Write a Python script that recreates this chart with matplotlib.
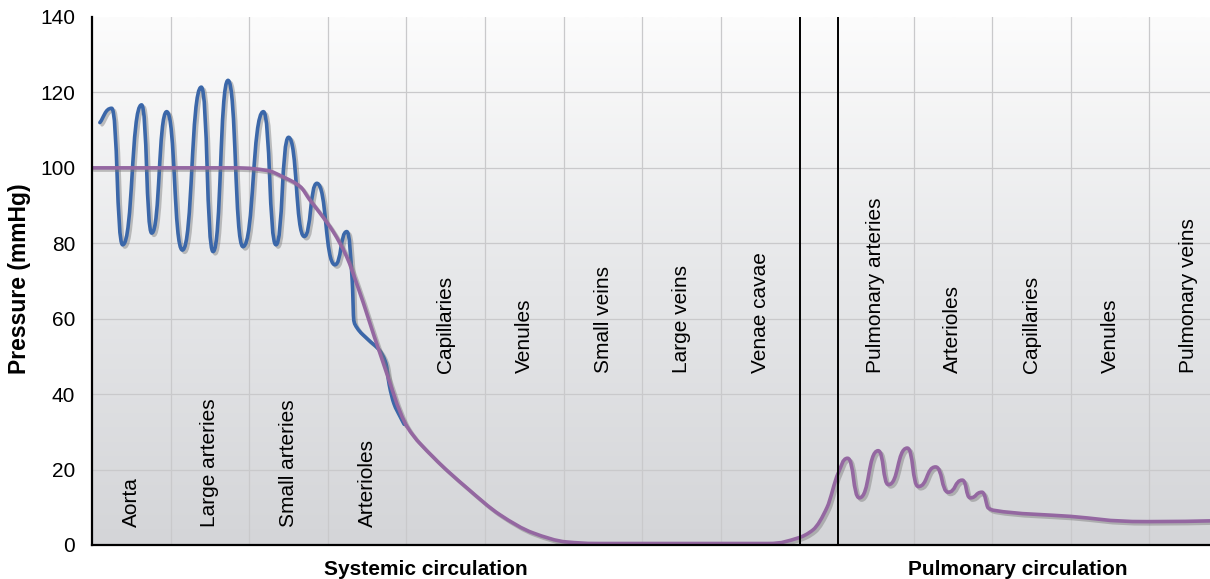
import numpy as np
import matplotlib
matplotlib.use('Agg')
import matplotlib.pyplot as plt
from matplotlib.path import Path
from matplotlib.patches import PathPatch
from matplotlib.colors import LinearSegmentedColormap
import matplotlib.patheffects as pe

plt.rcParams['font.family'] = ['Liberation Sans', 'DejaVu Sans']

# x is measured in "vessel columns" (one grid cell = 1)
systemic_names = ['Aorta', 'Large arteries', 'Small arteries', 'Arterioles',
                  'Capillaries', 'Venules', 'Small veins', 'Large veins', 'Venae cavae']
pulmonary_names = ['Pulmonary arteries', 'Arterioles', 'Capillaries', 'Venules',
                   'Pulmonary veins']
pulmonary_edges = [9.49, 10.45, 11.45, 12.45, 13.45, 14.45]

# pulsatile (blue) pressure
blue_x = [0.10, 0.25, 0.39, 0.63, 0.76, 0.95, 1.15, 1.39, 1.54, 1.73, 1.92,
          2.18, 2.34, 2.50, 2.70, 2.86, 3.09, 3.24,
          3.31, 3.33, 3.37, 3.51, 3.66, 3.74, 3.78, 3.84, 3.92, 3.97]
blue_y = [112.0, 115.8, 79.6, 116.7, 82.7, 114.9, 78.2, 121.4, 77.8, 123.2, 79.1,
          114.9, 79.6, 108.1, 81.8, 95.9, 74.3, 83.1,
          70.0, 59.5, 57.6, 54.5, 51.5, 48.0, 42.5, 37.5, 34.0, 32.0]

# mean (purple) pressure
mean_x = [0.0, 1.79, 2.23, 2.43, 2.65, 2.77, 2.90, 3.07, 3.24, 3.38, 3.66,
          4.01, 4.34, 4.77, 5.19, 5.61, 6.04, 6.46, 8.59, 8.97, 9.17, 9.35,
          9.49, 9.61, 9.76, 10.00, 10.13, 10.37, 10.51, 10.73, 10.89, 11.07,
          11.17, 11.32, 11.40, 11.47, 12.44, 13.42, 14.22]
mean_y = [100.0, 100.0, 99.3, 97.6, 95.0, 91.5, 88.0, 83.0, 76.4, 68.5, 51.0,
          31.3, 23.3, 15.1, 8.0, 3.2, 0.8, 0.4, 0.4, 1.8, 4.0, 10.0,
          19.0, 23.0, 12.5, 25.0, 16.0, 25.7, 15.5, 20.7, 14.0, 17.2,
          12.5, 14.0, 9.8, 9.2, 7.6, 6.2, 6.4]


def monotone_path(xs, ys):
    # cubic hermite (monotone, like d3.curveMonotoneX) as bezier path,
    # with longer handles at the turning points for rounder crests
    x = np.asarray(xs, float)
    y = np.asarray(ys, float)
    h = np.diff(x)
    d = np.diff(y) / h
    m = np.zeros_like(y)
    m[0], m[-1] = d[0], d[-1]
    for k in range(1, len(x) - 1):
        if d[k - 1] * d[k] > 0:
            w1 = 2 * h[k] + h[k - 1]
            w2 = h[k] + 2 * h[k - 1]
            m[k] = (w1 + w2) / (w1 / d[k - 1] + w2 / d[k])
    verts = [(x[0], y[0])]
    codes = [Path.MOVETO]
    for k in range(len(x) - 1):
        t0 = h[k] * (0.55 if m[k] == 0 else 1 / 3)
        t1 = h[k] * (0.55 if m[k + 1] == 0 else 1 / 3)
        verts += [(x[k] + t0, y[k] + m[k] * t0),
                  (x[k + 1] - t1, y[k + 1] - m[k + 1] * t1),
                  (x[k + 1], y[k + 1])]
        codes += [Path.CURVE4] * 3
    return Path(verts, codes)


fig = plt.figure(figsize=(12.10, 5.79), dpi=100)
ax = fig.add_axes([92 / 1210, 34 / 579, 1118 / 1210, 528 / 579])
xmax = 14.22
ax.set_xlim(0, xmax)
ax.set_ylim(0, 140)

bg = LinearSegmentedColormap.from_list('bg', ['#d4d5d8', '#e6e7e9', '#fcfcfc'])
ax.imshow(np.linspace(0, 1, 256)[:, None], extent=[0, xmax, 0, 140], origin='lower',
          aspect='auto', cmap=bg, zorder=0)

grid_kw = dict(color='#c9c9cb', lw=0.9, zorder=1)
for yv in range(20, 140, 20):
    ax.axhline(yv, **grid_kw)
for xv in range(1, 9):
    ax.axvline(xv, **grid_kw)
for xv in pulmonary_edges[1:-1]:
    ax.axvline(xv, **grid_kw)

shadow = [pe.SimpleLineShadow(offset=(1.6, -1.6), shadow_color='#7a7a7a', alpha=0.45),
          pe.Normal()]

blue = PathPatch(monotone_path(blue_x, blue_y), fill=False, edgecolor='#3b67a9',
                 lw=2.6, capstyle='round', joinstyle='round', zorder=3)
blue.set_path_effects(shadow)
ax.add_patch(blue)

purple = PathPatch(monotone_path(mean_x, mean_y), fill=False, edgecolor='#9467a1',
                   lw=2.6, capstyle='round', joinstyle='round', zorder=4)
purple.set_path_effects(shadow)
ax.add_patch(purple)

ax.axvline(9.0, color='black', lw=1.4, zorder=5)
ax.axvline(pulmonary_edges[0], color='black', lw=1.4, zorder=5)

# vessel labels
for i, name in enumerate(systemic_names):
    ybase = 4.8 if i < 4 else 45.6
    ax.text(i + 0.5, ybase, name, rotation=90, ha='center', va='bottom',
            fontsize=15, color='black', zorder=6)
for i, name in enumerate(pulmonary_names):
    xc = (pulmonary_edges[i] + pulmonary_edges[i + 1]) / 2
    ax.text(xc, 45.6, name, rotation=90, ha='center', va='bottom',
            fontsize=15, color='black', zorder=6)

ax.text(4.25, -0.047, 'Systemic circulation', transform=ax.get_xaxis_transform(),
        ha='center', va='center', fontsize=15, fontweight='bold')
ax.text(11.78, -0.047, 'Pulmonary circulation', transform=ax.get_xaxis_transform(),
        ha='center', va='center', fontsize=15, fontweight='bold')

fig.text(20 / 1210, 1 - 279 / 579, 'Pressure (mmHg)', rotation=90, ha='center',
         va='center', fontsize=16.5, fontweight='bold')

ax.set_yticks(range(0, 141, 20))
ax.set_xticks([])
ax.tick_params(axis='y', length=0, pad=12, labelsize=15)
for s in ['top', 'right']:
    ax.spines[s].set_visible(False)
for s in ['left', 'bottom']:
    ax.spines[s].set_linewidth(1.6)
    ax.spines[s].set_color('black')
    ax.spines[s].set_zorder(6)

fig.savefig('out.png', dpi=100)
